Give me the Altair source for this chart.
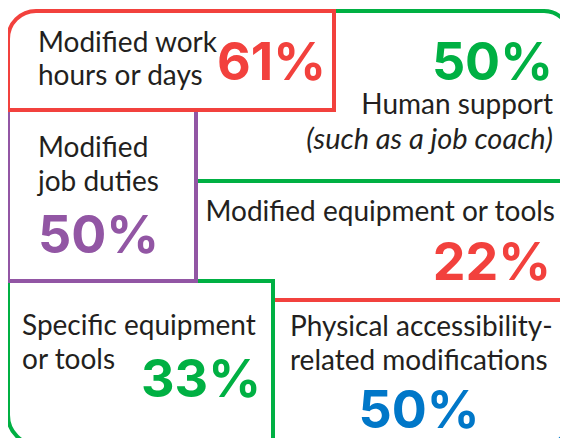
import altair as alt
import pandas as pd

# ---- Box outlines (coordinates in reference-image pixels) ----
box_names = ["Physical", "ModEquip", "Human", "Specific", "Duties", "Hours"]
box_x1 = [273, 196, 196, 8, 8, 8]
box_x2 = [570, 570, 570, 273, 196, 334]
box_y1 = [300, 181, 11, 281, 110, 11]
box_y2 = [447, 300, 181, 445, 281, 110]
box_colors = ["#0077C8", "#F2413D", "#00B043", "#00B043", "#9256A4", "#F2413D"]
box_corner = ["BottomRight", "", "TopRight", "BottomLeft", "", "TopLeft"]
box_radius = [30, 0, 26, 30, 0, 28]

# ---- Label lines ----
label_text = ["Modified work", "hours or days", "Human support", "Modified", "job duties",
              "Modified equipment or tools", "Specific equipment", "or tools",
              "Physical accessibility-", "related modifications"]
label_x = [38, 38, 553, 38, 38, 555, 22, 22, 290, 290]
label_y = [52, 85, 114, 157, 191, 221, 335, 369, 336, 370]
label_align = ["left", "left", "right", "left", "left", "right", "left", "left", "left", "left"]

italic_text = ["(such as a job coach)"]
italic_x = [553]
italic_y = [149]
italic_align = ["right"]

pct_text = ["61%", "50%", "50%", "22%", "33%", "50%"]
pct_x = [217, 553, 38, 551, 141, 419]
pct_y = [80, 80, 253, 280, 397, 428]
pct_align = ["left", "right", "left", "right", "left", "center"]
pct_color = ["#F2413D", "#00B043", "#9256A4", "#F2413D", "#00B043", "#0077C8"]

# chart area sits at page (8,8) and spans 552x430, so data units == page pixels
XS = alt.Scale(domain=[8, 560], nice=False, zero=False)
YS = alt.Scale(domain=[8, 438], nice=False, zero=False, reverse=True)

layers = []
for i in range(len(box_names)):
    d = pd.DataFrame({"x1": [box_x1[i]], "x2": [box_x2[i]], "y1": [box_y1[i]], "y2": [box_y2[i]]})
    kw = {}
    if box_corner[i]:
        kw["cornerRadius" + box_corner[i]] = box_radius[i]
    layers.append(
        alt.Chart(d).mark_rect(fill="white", stroke=box_colors[i], strokeWidth=4, **kw).encode(
            x=alt.X("x1:Q", scale=XS, axis=None),
            x2="x2:Q",
            y=alt.Y("y1:Q", scale=YS, axis=None),
            y2="y2:Q",
        )
    )

BODY_FONT = "Lato"
BODY_SIZE = 28

def text_layers(texts, xs, ys, aligns, colors, font, size, weight, style):
    out = []
    for t, x, y, a, c in zip(texts, xs, ys, aligns, colors):
        d = pd.DataFrame({"t": [t], "x": [x], "y": [y]})
        out.append(
            alt.Chart(d).mark_text(align=a, baseline="alphabetic", font=font, fontSize=size,
                                   fontWeight=weight, fontStyle=style, color=c).encode(
                x=alt.X("x:Q", scale=XS, axis=None),
                y=alt.Y("y:Q", scale=YS, axis=None),
                text="t:N",
            )
        )
    return out

layers += text_layers(label_text, label_x, label_y, label_align, ["#231F20"] * len(label_text),
                      BODY_FONT, BODY_SIZE, "normal", "normal")
layers += text_layers(italic_text, italic_x, italic_y, italic_align, ["#231F20"],
                      BODY_FONT, 29, "normal", "italic")
layers += text_layers(pct_text, pct_x, pct_y, pct_align, pct_color,
                      "Inter", 52, "bold", "normal")

chart = alt.layer(*layers).properties(
    width=552, height=430,
    autosize=alt.AutoSizeParams(type="none"),
    padding=0,
).configure_view(stroke=None)

chart.save("out.html", embed_options={"renderer": "svg", "actions": False})
